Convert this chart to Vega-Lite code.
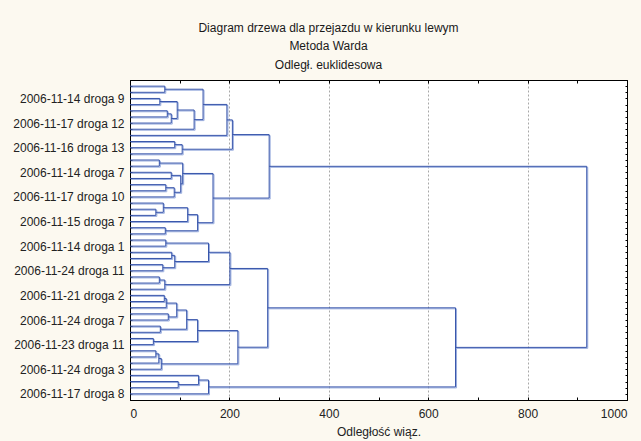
{
  "$schema": "https://vega.github.io/schema/vega-lite/v6.json",
  "width": 497,
  "height": 320,
  "autosize": "none",
  "padding": {"left": 130, "top": 80, "right": 14, "bottom": 41},
  "background": "#fcf9f0",
  "title": {
    "text": ["Diagram drzewa dla przejazdu w kierunku lewym", "Metoda Warda", "Odległ. euklidesowa"],
    "font": "Liberation Sans",
    "fontSize": 12,
    "fontWeight": "normal",
    "color": "#1a1a1a",
    "lineHeight": 18.5,
    "offset": 8,
    "anchor": "middle",
    "dx": -50
  },
  "data": {
    "values": [
      {"n": "A", "h": 70, "lp": 1, "lh": 0, "rp": 2, "rh": 0},
      {"n": "B", "h": 60, "lp": 3, "lh": 0, "rp": 4, "rh": 0},
      {"n": "C", "h": 75, "lp": 5, "lh": 0, "rp": 6, "rh": 0},
      {"n": "D", "h": 83, "lp": 5.5, "lh": 75, "rp": 7, "rh": 0},
      {"n": "E", "h": 95, "lp": 3.5, "lh": 60, "rp": 6.25, "rh": 83},
      {"n": "F", "h": 129, "lp": 4.875, "lh": 95, "rp": 8, "rh": 0},
      {"n": "G", "h": 147, "lp": 1.5, "lh": 70, "rp": 6.4375, "rh": 129},
      {"n": "H", "h": 195, "lp": 3.96875, "lh": 147, "rp": 9, "rh": 0},
      {"n": "I", "h": 90, "lp": 10, "lh": 0, "rp": 11, "rh": 0},
      {"n": "J", "h": 105, "lp": 10.5, "lh": 90, "rp": 12, "rh": 0},
      {"n": "K", "h": 206, "lp": 6.484375, "lh": 195, "rp": 11.25, "rh": 105},
      {"n": "L", "h": 59, "lp": 13, "lh": 0, "rp": 14, "rh": 0},
      {"n": "M", "h": 83, "lp": 15, "lh": 0, "rp": 16, "rh": 0},
      {"n": "N", "h": 72, "lp": 17, "lh": 0, "rp": 18, "rh": 0},
      {"n": "O", "h": 89, "lp": 17.5, "lh": 72, "rp": 19, "rh": 0},
      {"n": "P", "h": 102, "lp": 15.5, "lh": 83, "rp": 18.25, "rh": 89},
      {"n": "Q", "h": 106, "lp": 13.5, "lh": 59, "rp": 16.875, "rh": 102},
      {"n": "R", "h": 52, "lp": 21, "lh": 0, "rp": 22, "rh": 0},
      {"n": "S", "h": 67, "lp": 20, "lh": 0, "rp": 21.5, "rh": 52},
      {"n": "T", "h": 116, "lp": 20.75, "lh": 67, "rp": 23, "rh": 0},
      {"n": "U", "h": 71, "lp": 24, "lh": 0, "rp": 25, "rh": 0},
      {"n": "V", "h": 136, "lp": 21.875, "lh": 116, "rp": 24.5, "rh": 71},
      {"n": "W", "h": 167, "lp": 15.1875, "lh": 106, "rp": 23.1875, "rh": 136},
      {"n": "X", "h": 280, "lp": 8.8671875, "lh": 206, "rp": 19.1875, "rh": 167},
      {"n": "Y1", "h": 72, "lp": 26, "lh": 0, "rp": 27, "rh": 0},
      {"n": "Z1", "h": 84, "lp": 28, "lh": 0, "rp": 29, "rh": 0},
      {"n": "Z2", "h": 66, "lp": 30, "lh": 0, "rp": 31, "rh": 0},
      {"n": "Z3", "h": 90, "lp": 28.5, "lh": 84, "rp": 30.5, "rh": 66},
      {"n": "Z4", "h": 158, "lp": 26.5, "lh": 72, "rp": 29.5, "rh": 90},
      {"n": "a1", "h": 59, "lp": 32, "lh": 0, "rp": 33, "rh": 0},
      {"n": "a2", "h": 70, "lp": 32.5, "lh": 59, "rp": 34, "rh": 0},
      {"n": "a3", "h": 201, "lp": 28, "lh": 158, "rp": 33.25, "rh": 70},
      {"n": "b1", "h": 69, "lp": 35, "lh": 0, "rp": 36, "rh": 0},
      {"n": "b2", "h": 73, "lp": 35.5, "lh": 69, "rp": 37, "rh": 0},
      {"n": "b3", "h": 77, "lp": 38, "lh": 0, "rp": 39, "rh": 0},
      {"n": "b4", "h": 94, "lp": 36.25, "lh": 73, "rp": 38.5, "rh": 77},
      {"n": "b5", "h": 61, "lp": 40, "lh": 0, "rp": 41, "rh": 0},
      {"n": "b6", "h": 114, "lp": 37.375, "lh": 94, "rp": 40.5, "rh": 61},
      {"n": "b7", "h": 47, "lp": 42, "lh": 0, "rp": 43, "rh": 0},
      {"n": "b8", "h": 136, "lp": 38.9375, "lh": 114, "rp": 42.5, "rh": 47},
      {"n": "c1", "h": 52, "lp": 44, "lh": 0, "rp": 45, "rh": 0},
      {"n": "c2", "h": 58, "lp": 44.5, "lh": 52, "rp": 46, "rh": 0},
      {"n": "c3", "h": 63, "lp": 45.25, "lh": 58, "rp": 47, "rh": 0},
      {"n": "c4", "h": 217, "lp": 40.71875, "lh": 136, "rp": 46.125, "rh": 63},
      {"n": "c5", "h": 277, "lp": 30.625, "lh": 201, "rp": 43.421875, "rh": 217},
      {"n": "d1", "h": 97, "lp": 49, "lh": 0, "rp": 50, "rh": 0},
      {"n": "d2", "h": 138, "lp": 48, "lh": 0, "rp": 49.5, "rh": 97},
      {"n": "d3", "h": 158, "lp": 48.75, "lh": 138, "rp": 51, "rh": 0},
      {"n": "d4", "h": 655, "lp": 37.0234375, "lh": 277, "rp": 49.875, "rh": 158},
      {"n": "root", "h": 919, "lp": 14.02734375, "lh": 280, "rp": 43.44921875, "rh": 655}
    ]
  },
  "resolve": {"axis": {"x": "independent", "y": "independent"}},
  "layer": [
    {
      "mark": {"type": "rule", "color": "#9aaede", "strokeWidth": 1, "xOffset": 1, "yOffset": 1, "y2Offset": 1},
      "encoding": {
        "x": {"field": "h", "type": "quantitative", "scale": {"domain": [0, 1000], "nice": false},
          "axis": {"orient": "bottom", "title": "Odległość wiąz.", "format": "d", "values": [0, 100, 200, 300, 400, 500, 600, 700, 800, 900, 1000],
            "labelExpr": "datum.value % 200 === 0 ? datum.label : ''", "tickSize": -3, "labelPadding": 11, "titlePadding": 7,
            "grid": true, "gridDash": [2, 2], "gridColor": "#a8a8a8",
            "gridOpacity": {"condition": {"test": "datum.value % 200 === 0 && datum.value > 0 && datum.value < 1000", "value": 1}, "value": 0}}},
        "y": {"field": "lp", "type": "quantitative", "scale": {"domain": [0, 52], "reverse": true, "nice": false, "zero": false},
          "axis": {"orient": "left", "title": null, "grid": false,
            "values": [1,2,3,4,5,6,7,8,9,10,11,12,13,14,15,16,17,18,19,20,21,22,23,24,25,26,27,28,29,30,31,32,33,34,35,36,37,38,39,40,41,42,43,44,45,46,47,48,49,50,51],
            "labelExpr": "(datum.value - 3) % 4 === 0 ? ['2006-11-14 droga 9','2006-11-17 droga 12','2006-11-16 droga 13','2006-11-14 droga 7','2006-11-17 droga 10','2006-11-15 droga 7','2006-11-14 droga 1','2006-11-24 droga 11','2006-11-21 droga 2','2006-11-24 droga 7','2006-11-23 droga 11','2006-11-24 droga 3','2006-11-17 droga 8'][(datum.value - 3) / 4] : ''",
            "tickSize": -2, "labelPadding": 8, "labelBound": false, "labelOverlap": false, "labelFlush": false}},
        "y2": {"field": "rp"}
      }
    },
    {
      "mark": {"type": "rule", "color": "#9aaede", "strokeWidth": 1, "xOffset": 1, "x2Offset": 1, "yOffset": 1},
      "encoding": {
        "x": {"field": "lh", "type": "quantitative",
          "axis": {"orient": "top", "title": null, "labels": false, "grid": false, "tickSize": -3,
            "values": [0, 100, 200, 300, 400, 500, 600, 700, 800, 900, 1000]}},
        "x2": {"field": "h"},
        "y": {"field": "lp", "type": "quantitative",
          "axis": {"orient": "right", "title": null, "labels": false, "grid": false, "tickSize": -2,
            "values": [1,2,3,4,5,6,7,8,9,10,11,12,13,14,15,16,17,18,19,20,21,22,23,24,25,26,27,28,29,30,31,32,33,34,35,36,37,38,39,40,41,42,43,44,45,46,47,48,49,50,51]}}
      }
    },
    {
      "mark": {"type": "rule", "color": "#9aaede", "strokeWidth": 1, "xOffset": 1, "x2Offset": 1, "yOffset": 1},
      "encoding": {
        "x": {"field": "rh", "type": "quantitative", "axis": null},
        "x2": {"field": "h"},
        "y": {"field": "rp", "type": "quantitative", "axis": null}
      }
    },
    {
      "mark": {"type": "rule", "color": "#3553aa", "strokeWidth": 1},
      "encoding": {
        "x": {"field": "h", "type": "quantitative", "axis": null},
        "y": {"field": "lp", "type": "quantitative", "axis": null},
        "y2": {"field": "rp"}
      }
    },
    {
      "mark": {"type": "rule", "color": "#3553aa", "strokeWidth": 1},
      "encoding": {
        "x": {"field": "lh", "type": "quantitative", "axis": null},
        "x2": {"field": "h"},
        "y": {"field": "lp", "type": "quantitative", "axis": null}
      }
    },
    {
      "mark": {"type": "rule", "color": "#3553aa", "strokeWidth": 1},
      "encoding": {
        "x": {"field": "rh", "type": "quantitative", "axis": null},
        "x2": {"field": "h"},
        "y": {"field": "rp", "type": "quantitative", "axis": null}
      }
    }
  ],
  "config": {
    "view": {"fill": "white", "stroke": "#000", "strokeWidth": 1},
    "axis": {"labelFont": "Liberation Sans", "labelFontSize": 12, "labelColor": "#222",
      "titleFont": "Liberation Sans", "titleFontSize": 12, "titleFontWeight": "normal", "titleColor": "#222",
      "domainColor": "#000", "tickColor": "#000", "domainWidth": 1, "tickWidth": 1}
  }
}
